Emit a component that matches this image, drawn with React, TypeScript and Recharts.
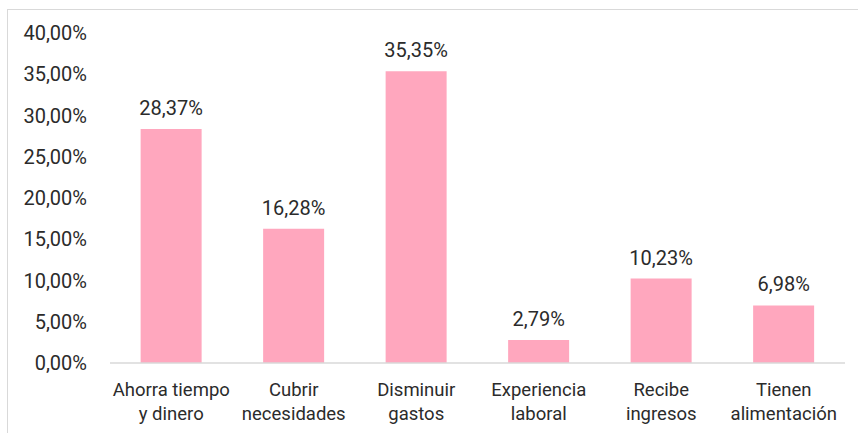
import React from 'react';
import { BarChart, Bar, XAxis, YAxis, LabelList } from 'recharts';

const categories = ['Ahorra tiempo y dinero', 'Cubrir necesidades', 'Disminuir gastos', 'Experiencia laboral', 'Recibe ingresos', 'Tienen alimentación'];
const categoryLines = [
  ['Ahorra tiempo', 'y dinero'],
  ['Cubrir', 'necesidades'],
  ['Disminuir', 'gastos'],
  ['Experiencia', 'laboral'],
  ['Recibe', 'ingresos'],
  ['Tienen', 'alimentación'],
];
const values = [28.37, 16.28, 35.35, 2.79, 10.23, 6.98];
const yTicks = [0, 5, 10, 15, 20, 25, 30, 35, 40];

const data = categories.map((c, i) => ({ name: c, idx: i, value: values[i] }));

const fmt = (v: number) => v.toFixed(2).replace('.', ',') + '%';
const FONT = 'Roboto, sans-serif';
const TEXT = '#2b2b2b';

const XTick = (props: any) => {
  const { x, y, payload, index } = props;
  const lines = categoryLines[index] || [payload.value];
  return (
    <text x={x} y={y} textAnchor="middle" fill={TEXT} fontSize={18.5} fontFamily={FONT}>
      {lines.map((l: string, i: number) => (
        <tspan key={i} x={x} y={y + 33 + i * 24}>{l}</tspan>
      ))}
    </text>
  );
};

export default function App() {
  return (
    <div style={{ position: 'absolute', left: 0, top: 0, width: 858, height: 433, overflow: 'hidden', background: '#fff' }}>
      <div style={{ position: 'absolute', left: 7, top: 9, width: 1000, height: 1000, border: '1px solid #d9d9d9' }} />
      <div style={{ position: 'absolute', left: 0, top: 0 }}>
        <BarChart width={858} height={433} data={data} margin={{ top: 33, right: 13, left: 0, bottom: 40 }} barCategoryGap="25%">
          <YAxis
            width={110}
            domain={[0, 40]}
            ticks={yTicks}
            tickFormatter={(v: number) => fmt(v)}
            axisLine={false}
            tickLine={false}
            tickSize={0}
            tickMargin={23}
            tick={{ fill: TEXT, fontSize: 20, fontFamily: FONT }}
            interval={0}
          />
          <XAxis
            dataKey="name"
            height={30}
            axisLine={{ stroke: '#d9d9d9', strokeWidth: 1.5 }}
            tickLine={false}
            tickSize={0}
            tickMargin={0}
            interval={0}
            tick={<XTick />}
          />
          <Bar dataKey="value" fill="#FFA7BE" isAnimationActive={false}>
            <LabelList dataKey="value" position="top" offset={14} formatter={(v: number) => fmt(v)} fill={TEXT} fontSize={20} fontFamily={FONT} />
          </Bar>
        </BarChart>
      </div>
    </div>
  );
}
